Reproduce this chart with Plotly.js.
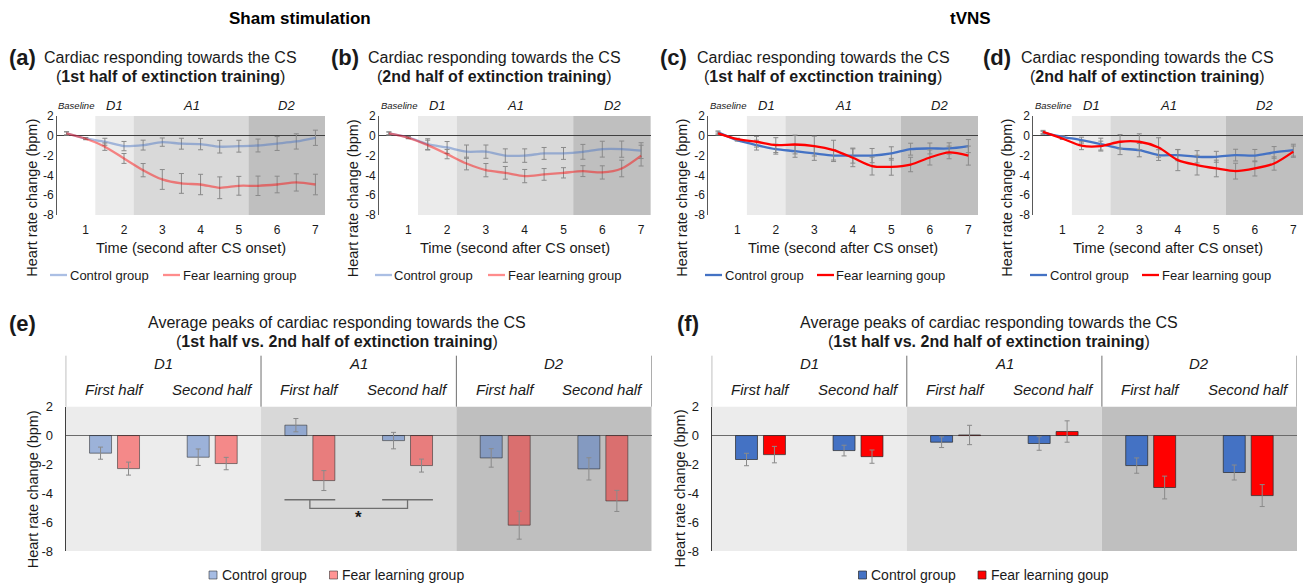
<!DOCTYPE html>
<html><head><meta charset="utf-8">
<script src="https://cdn.plot.ly/plotly-3.0.1.min.js"></script>
<style>html,body{margin:0;padding:0;background:#fff}#chart{width:1306px;height:585px}</style>
</head><body><div id="chart"></div>
<script>
// ---------------- DATA ----------------
const timeSec = [0.5,1,1.5,2,2.5,3,3.5,4,4.5,5,5.5,6,6.5,7];
const xTickVals = [1,2,3,4,5,6,7];
const yTickVals = [2,0,-2,-4,-6,-8];
const yTickText = ['2','0','-2','-4','-6','-8'];
const phaseNames = ['Baseline','D1','A1','D2'];
const phaseStart = [0.25,1.25,2.25,5.25];
const phaseEnd   = [1.25,2.25,5.25,7.25];

const shamFirstControl    = [0.25,-0.27,-0.60,-1.04,-0.94,-0.64,-0.80,-0.84,-1.10,-1.05,-0.98,-0.78,-0.57,-0.20];
const shamFirstControlErr = [0.17,0.10,0.35,0.47,0.50,0.42,0.55,0.57,0.64,0.60,0.65,0.70,0.77,0.77];
const shamFirstFear       = [0.24,-0.30,-1.10,-2.29,-3.47,-4.41,-4.81,-4.92,-5.25,-5.05,-5.05,-4.92,-4.71,-4.92];
const shamFirstFearErr    = [0.15,0.10,0.37,0.50,0.67,1.00,1.00,1.03,1.10,0.95,0.98,0.84,0.87,1.04];

const shamSecondControl    = [0.24,-0.17,-0.84,-1.18,-1.60,-1.60,-2.00,-2.00,-1.78,-1.78,-1.62,-1.35,-1.35,-1.50];
const shamSecondControlErr = [0.15,0.10,0.54,0.60,0.67,0.67,0.68,0.68,0.60,0.60,0.75,0.80,0.82,0.80];
const shamSecondFear       = [0.24,-0.20,-0.94,-1.85,-2.80,-3.47,-3.74,-4.07,-3.90,-3.74,-3.57,-3.70,-3.30,-2.00];
const shamSecondFearErr    = [0.15,0.10,0.50,0.47,0.64,0.67,0.64,0.67,0.59,0.52,0.55,0.67,0.84,1.05];

const tvnsFirstControl    = [0.34,-0.44,-0.94,-1.35,-1.55,-1.78,-2.00,-2.00,-2.00,-1.78,-1.35,-1.28,-1.28,-1.04];
const tvnsFirstControlErr = [0.15,0.10,0.50,0.50,0.62,0.70,0.60,0.76,0.72,0.67,0.60,0.55,0.57,0.66];
const tvnsFirstFear       = [0.24,-0.34,-0.60,-0.94,-0.88,-1.04,-1.45,-2.22,-3.06,-3.13,-2.90,-2.19,-1.68,-2.00];
const tvnsFirstFearErr    = [0.15,0.10,0.54,0.75,0.95,1.00,1.00,0.90,0.90,0.85,0.73,0.76,0.64,0.96];

const tvnsSecondControl    = [0.30,-0.10,-0.44,-0.84,-1.28,-1.45,-1.95,-1.95,-2.12,-2.12,-1.95,-2.00,-1.68,-1.45];
const tvnsSecondControlErr = [0.15,0.10,0.30,0.60,0.62,0.67,0.54,0.57,0.62,0.55,0.59,0.62,0.59,0.60];
const tvnsSecondFear       = [0.40,-0.27,-1.00,-1.04,-0.60,-0.60,-1.18,-2.46,-2.96,-3.30,-3.57,-3.30,-2.80,-1.60];
const tvnsSecondFearErr    = [0.15,0.10,0.40,0.50,0.72,0.80,0.98,1.06,1.00,0.84,0.80,0.76,0.67,0.57];

const barGroups = ['D1','A1','D2'];
const barHalves = ['First half','Second half','First half','Second half','First half','Second half'];
const shamPeakControl    = [-1.22,-1.50,0.72,-0.35,-1.55,-2.31];
const shamPeakControlErr = [0.42,0.57,0.46,0.57,0.64,0.77];
const shamPeakFear       = [-2.29,-1.94,-3.12,-2.08,-6.21,-4.53];
const shamPeakFearErr    = [0.45,0.43,0.69,0.45,0.97,0.73];
const tvnsPeakControl    = [-1.66,-1.04,-0.46,-0.55,-2.08,-2.56];
const tvnsPeakControlErr = [0.43,0.37,0.37,0.47,0.53,0.52];
const tvnsPeakFear       = [-1.32,-1.46,0.04,0.28,-3.60,-4.16];
const tvnsPeakFearErr    = [0.57,0.46,0.67,0.74,0.79,0.76];
const sigPair = [2,3];
const sigLevels = [-4.45,-5.05];

// ---------------- LAYOUT HELPERS ----------------
const W=1306,H=585;
const fx=p=>p/W, fy=p=>1-p/H;
const FONT='"Liberation Sans", Arial, Helvetica, sans-serif';
const NARROW='"Liberation Sans Narrow", "Arial Narrow", "Liberation Sans", Arial, sans-serif';
const TXT='#1a1a1a';
const ERRC='#8a8a8a';
const lightBlue='rgba(68,114,196,0.45)', lightRed='rgba(255,0,0,0.45)';
const blue='#4472C4', red='#FF0000';
const phaseFill = [null,'#EBEBEB','#D9D9D9','#BFBFBF'];
const groupFill = ['#ECECEC','#D8D8D8','#BFBFBF'];

const traces=[], shapes=[], annotations=[];
const layout={width:W,height:H,margin:{l:0,r:0,t:0,b:0},autosize:false,
  paper_bgcolor:'#fff',plot_bgcolor:'rgba(0,0,0,0)',showlegend:false,
  font:{family:FONT,color:TXT},barmode:'group',bargap:0.427,bargroupgap:0.214};

function ann(x,y,text,size,extra){annotations.push(Object.assign({xref:'paper',yref:'paper',x:fx(x),y:fy(y),text:text,showarrow:false,font:{size:size,family:FONT,color:TXT},xanchor:'center',yanchor:'middle'},extra||{}));}

const topPanels=[
 {letter:'(a)',sub:'1st half of extinction training',c:shamFirstControl,ce:shamFirstControlErr,f:shamFirstFear,fe:shamFirstFearErr,x0:57,x1:325,lx:22,tx:171,ytx:31.7,cc:lightBlue,fc:lightRed,fearName:'Fear learning group',leg:[50,163]},
 {letter:'(b)',sub:'2nd half of extinction training',c:shamSecondControl,ce:shamSecondControlErr,f:shamSecondFear,fe:shamSecondFearErr,x0:379.2,x1:650.8,lx:345,tx:494,ytx:353.3,cc:lightBlue,fc:lightRed,fearName:'Fear learning group',leg:[375,488]},
 {letter:'(c)',sub:'1st half of exctinction training',c:tvnsFirstControl,ce:tvnsFirstControlErr,f:tvnsFirstFear,fe:tvnsFirstFearErr,x0:708.4,x1:978,lx:673,tx:823,ytx:681.7,cc:blue,fc:red,fearName:'Fear learning goup',leg:[705,817]},
 {letter:'(d)',sub:'2nd half of extinction training',c:tvnsSecondControl,ce:tvnsSecondControlErr,f:tvnsSecondFear,fe:tvnsSecondFearErr,x0:1033.4,x1:1303,lx:997,tx:1147.5,ytx:1006.7,cc:blue,fc:red,fearName:'Fear learning goup',leg:[1030,1142]}
];
const TOP_Y0=116, TOP_Y1=215;

topPanels.forEach((p,i)=>{
  const s = i===0?'':String(i+1);
  const xa='x'+s, ya='y'+s;
  layout['xaxis'+s]={domain:[fx(p.x0),fx(p.x1)],range:[0.25,7.25],anchor:ya,tickvals:xTickVals,ticktext:xTickVals.map(String),
    showgrid:false,zeroline:false,showline:false,ticks:'',tickfont:{size:12,color:TXT},ticklabelstandoff:6,fixedrange:true};
  layout['yaxis'+s]={domain:[fy(TOP_Y1),fy(TOP_Y0)],range:[-8,2],anchor:xa,tickvals:yTickVals,ticktext:yTickText,
    showgrid:false,zeroline:true,zerolinecolor:'#404040',zerolinewidth:1,showline:true,linecolor:'#595959',linewidth:1,
    ticks:'',tickfont:{size:12,color:TXT},fixedrange:true};
  [[p.c,p.ce,p.cc],[p.f,p.fe,p.fc]].forEach(([y,e,col])=>{
    traces.push({type:'scatter',mode:'lines',x:timeSec,y:y,xaxis:xa,yaxis:ya,hoverinfo:'skip',
      line:{color:col,width:2.3,shape:'spline',smoothing:0.8},
      error_y:{type:'data',array:e,visible:true,color:ERRC,thickness:1,width:2.5}});
  });
  phaseNames.forEach((nm,k)=>{
    if(phaseFill[k]) shapes.push({type:'rect',xref:xa,yref:ya+' domain',x0:phaseStart[k],x1:phaseEnd[k],y0:0,y1:1,fillcolor:phaseFill[k],line:{width:0},layer:'below'});
    annotations.push({xref:xa,yref:'paper',x:(phaseStart[k]+phaseEnd[k])/2,y:fy(105),text:'<i>'+nm+'</i>',showarrow:false,
      font:{size:k===0?9.5:13,family:FONT,color:TXT},xanchor:'center',yanchor:'middle'});
  });
  ann(p.lx,58,'<b>'+p.letter+'</b>',22);
  ann(p.tx,58,'Cardiac responding towards the CS',16);
  ann(p.tx,77,'(<b>'+p.sub+'</b>)',16);
  ann(p.ytx,198,'Heart rate change (bpm)',14.5,{textangle:-90});
  ann((p.x0+p.x1)/2,248,'Time (second after CS onset)',14.6);
  [[p.leg[0],p.cc,'Control group'],[p.leg[1],p.fc,p.fearName]].forEach(([lx,col,t])=>{
    shapes.push({type:'line',xref:'paper',yref:'paper',x0:fx(lx),x1:fx(lx+17),y0:fy(275),y1:fy(275),line:{color:col,width:2.3}});
    ann(lx+17.5,275,t,13,{xanchor:'left'});
  });
});

ann(300,19,'<b>Sham stimulation</b>',17,{font:{size:17,family:NARROW,color:'#000'}});
ann(970,19,'<b>tVNS</b>',17,{font:{size:17,family:NARROW,color:'#000'}});

const botPanels=[
 {letter:'(e)',c:shamPeakControl,ce:shamPeakControlErr,f:shamPeakFear,fe:shamPeakFearErr,x0:65.7,x1:651.7,lx:22,tx:336.5,ytx:33.3,
  cc:'rgba(68,114,196,0.48)',fc:'rgba(255,0,0,0.42)',lc:'rgba(40,40,40,0.55)',fearName:'Fear learning group',leg:[209,329.5],sig:true},
 {letter:'(f)',c:tvnsPeakControl,ce:tvnsPeakControlErr,f:tvnsPeakFear,fe:tvnsPeakFearErr,x0:711.7,x1:1297,lx:688,tx:989,ytx:679.5,
  cc:blue,fc:red,lc:'rgba(40,40,40,0.7)',fearName:'Fear learning goup',leg:[858.5,978],sig:false}
];
const BOT_Y0=406.7, BOT_Y1=551;
const barIdx = barHalves.map((_,i)=>i);

botPanels.forEach((p,i)=>{
  const s=String(i+5); const xa='x'+s, ya='y'+s;
  layout['xaxis'+s]={domain:[fx(p.x0),fx(p.x1)],range:[-0.5,5.5],anchor:ya,showticklabels:false,showgrid:false,zeroline:false,showline:false,ticks:'',fixedrange:true};
  layout['yaxis'+s]={domain:[fy(BOT_Y1),fy(BOT_Y0)],range:[-8,2],anchor:xa,tickvals:yTickVals,ticktext:yTickText,
    showgrid:false,zeroline:true,zerolinecolor:'#6b6b6b',zerolinewidth:1.3,showline:true,linecolor:'#404040',linewidth:1,
    ticks:'',tickfont:{size:13,color:TXT},ticklabelstandoff:9,fixedrange:true};
  [[p.c,p.ce,p.cc],[p.f,p.fe,p.fc]].forEach(([y,e,col])=>{
    traces.push({type:'bar',x:barIdx,y:y,xaxis:xa,yaxis:ya,hoverinfo:'skip',
      marker:{color:col,line:{color:p.lc,width:1}},
      error_y:{type:'data',array:e,visible:true,color:ERRC,thickness:1,width:2.5}});
  });
  barGroups.forEach((g,k)=>{
    shapes.push({type:'rect',xref:xa,yref:ya+' domain',x0:2*k-0.5,x1:2*k+1.5,y0:0,y1:1,fillcolor:groupFill[k],line:{width:0},layer:'below'});
    annotations.push({xref:xa,yref:'paper',x:2*k+0.5,y:fy(363.3),text:'<i>'+g+'</i>',showarrow:false,font:{size:15,family:FONT,color:TXT},xanchor:'center',yanchor:'middle'});
  });
  for(let k=0;k<=barGroups.length;k++){
    shapes.push({type:'line',xref:xa,yref:'paper',x0:2*k-0.5,x1:2*k-0.5,y0:fy(BOT_Y0),y1:fy(355.7),line:{color:'#6f6f6f',width:1}});
  }
  barHalves.forEach((h,k)=>{
    annotations.push({xref:xa,yref:'paper',x:barIdx[k],y:fy(389.3),text:'<i>'+h+'</i>',showarrow:false,font:{size:15,family:FONT,color:TXT},xanchor:'center',yanchor:'middle'});
  });
  if(p.sig){
    const sc={color:'#6f6f6f',width:1.3};
    sigPair.forEach(c=>shapes.push({type:'line',xref:xa,yref:ya,x0:c-0.26,x1:c+0.26,y0:sigLevels[0],y1:sigLevels[0],line:sc}));
    shapes.push({type:'path',xref:xa,yref:ya,path:`M${sigPair[0]},${sigLevels[0]} L${sigPair[0]},${sigLevels[1]} L${sigPair[1]},${sigLevels[1]} L${sigPair[1]},${sigLevels[0]}`,line:sc});
    annotations.push({xref:xa,yref:ya,x:(sigPair[0]+sigPair[1])/2,y:sigLevels[1]-0.6,text:'<b>*</b>',showarrow:false,font:{size:17,family:FONT,color:TXT},xanchor:'center',yanchor:'middle'});
  }
  ann(p.lx,323,'<b>'+p.letter+'</b>',22);
  ann(p.tx,322.7,'Average peaks of cardiac responding towards the CS',16);
  ann(p.tx,341.7,'(<b>1st half vs. 2nd half of extinction training</b>)',16);
  ann(p.ytx,489,'Heart rate change (bpm)',14.5,{textangle:-90});
  [[p.leg[0],p.cc,'Control group'],[p.leg[1],p.fc,p.fearName]].forEach(([lx,col,t])=>{
    shapes.push({type:'rect',xref:'paper',yref:'paper',x0:fx(lx),x1:fx(lx+8),y0:fy(579),y1:fy(571),fillcolor:col,line:{color:p.lc,width:1}});
    ann(lx+10.5,575,t,14,{xanchor:'left'});
  });
});

layout.shapes=shapes; layout.annotations=annotations;
Plotly.newPlot('chart',traces,layout,{staticPlot:true,displayModeBar:false});
</script></body></html>
